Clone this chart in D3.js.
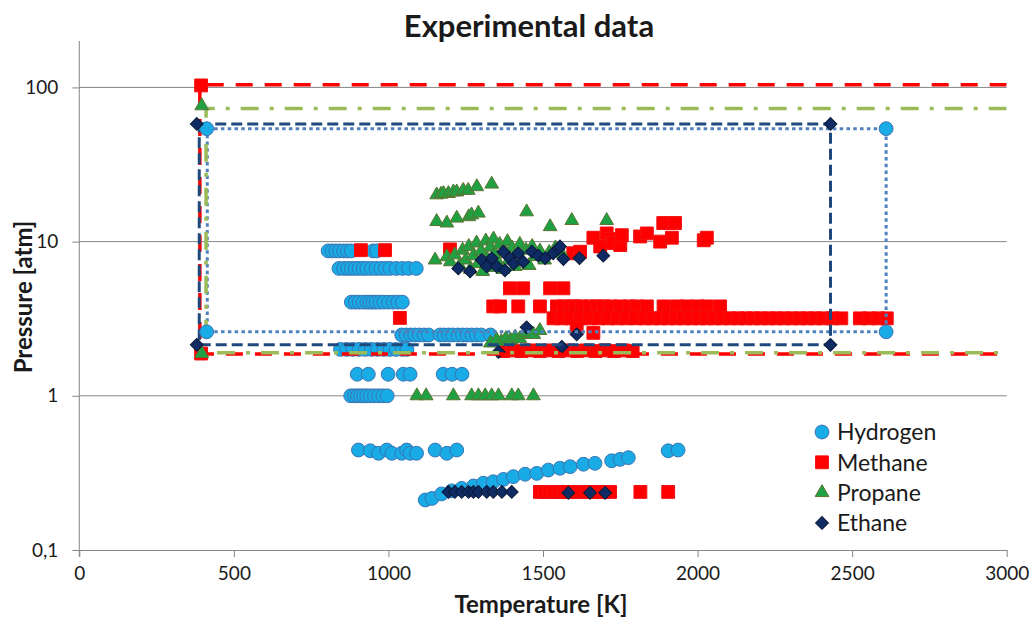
<!DOCTYPE html>
<html>
<head>
<meta charset="utf-8">
<script src="https://cdn.jsdelivr.net/npm/d3@7"></script>
<style>
  body { margin: 0; background: #fff; }
  svg { display: block; }
  text { font-family: Lato, "Open Sans", sans-serif; fill: #1a1a1a; }
</style>
</head>
<body>
<div id="chart"></div>
<script>
// Data: [temperature K, pressure atm]
const hydrogen = [
  [805,8.7],[818,8.7],[830,8.7],[842,8.7],[855,8.7],[868,8.7],[880,8.7],[950,8.7],[962,8.7],
  [840,6.7],[855,6.7],[868,6.7],[880,6.7],[893,6.7],[905,6.7],[918,6.7],[930,6.7],[945,6.7],
  [960,6.7],[975,6.7],[990,6.7],[1005,6.7],[1025,6.7],[1045,6.7],[1065,6.7],[1090,6.7],
  [880,4.05],[893,4.05],[905,4.05],[918,4.05],[930,4.05],[940,4.05],[950,4.05],[960,4.05],
  [972,4.05],[985,4.05],[1000,4.05],[1015,4.05],[1030,4.05],[1045,4.05],
  [1043,2.48],[1058,2.48],[1072,2.48],[1085,2.48],[1100,2.48],[1115,2.48],[1130,2.48],
  [1167,2.48],[1180,2.48],[1195,2.48],[1208,2.48],[1225,2.48],[1240,2.48],[1255,2.48],
  [1270,2.48],[1285,2.48],[1300,2.48],[1330,2.48],
  [845,2.0],[865,2.0],[885,2.0],[905,2.0],[925,2.0],[945,2.0],[965,2.0],[985,2.0],
  [1005,2.0],[1025,2.0],[1045,2.0],[1060,2.0],
  [899,1.38],[935,1.38],[999,1.38],[1048,1.38],[1070,1.38],[1177,1.38],[1206,1.38],[1238,1.38],
  [878,1.0],[890,1.0],[900,1.0],[910,1.0],[920,1.0],[930,1.0],[942,1.0],[955,1.0],
  [968,1.0],[982,1.0],[996,1.0],
  [903,0.445],[941,0.44],[968,0.424],[995,0.445],[1011,0.424],[1043,0.424],[1059,0.445],
  [1070,0.424],[1091,0.424],[1151,0.445],[1189,0.424],[1221,0.445],[1905,0.44],[1937,0.445],
  [1119,0.211],[1141,0.216],[1172,0.231],[1205,0.242],[1237,0.251],[1275,0.26],[1307,0.271],
  [1339,0.277],[1372,0.287],[1404,0.299],[1442,0.31],[1480,0.314],[1517,0.33],[1555,0.339],
  [1588,0.347],[1631,0.36],[1668,0.365],[1722,0.379],[1749,0.387],[1776,0.397]
];
const methane = [
  [911,8.8],[989,8.8],[1199,8.9],[1037,3.2],
  [1598,8.4],[1620,8.6],[1663,10.6],[1685,9.3],[1706,11.3],[1722,10.4],[1727,9.8],[1750,9.5],
  [1755,11.0],[1814,10.8],[1836,11.3],[1879,10.0],[1889,13.2],[1917,10.6],[1927,13.2],
  [2020,10.2],[2030,10.6],
  [1393,4.98],[1436,4.98],[1523,4.98],[1566,4.98],
  [1339,3.8],[1361,3.8],[1420,3.8],[1490,3.8],[1545,3.8],[1566,3.8],[1590,3.8],[1604,3.8],
  [1625,3.8],[1652,3.8],[1675,3.8],[1695,3.8],[1720,3.8],[1750,3.8],[1780,3.8],[1803,3.8],
  [1836,3.8],[1890,3.8],[1933,3.8],[1965,3.8],[2000,3.8],[2030,3.8],[2073,3.8],
  [1534,3.18],[1560,3.18],[1590,3.18],[1620,3.18],[1650,3.18],[1680,3.18],[1710,3.18],
  [1740,3.18],[1770,3.18],[1800,3.18],[1830,3.18],[1855,3.18],[1880,3.18],[1905,3.18],
  [1930,3.18],[1955,3.18],[1980,3.18],[2005,3.18],[2030,3.18],[2055,3.18],[2080,3.18],
  [2105,3.18],[2130,3.18],[2155,3.18],[2180,3.18],[2205,3.18],[2230,3.18],[2255,3.18],
  [2280,3.18],[2305,3.18],[2330,3.18],[2355,3.18],[2380,3.18],[2405,3.18],[2435,3.18],
  [2465,3.18],[2525,3.18],[2555,3.18],[2585,3.18],[2612,3.18],
  [1609,2.75],[1663,2.56],
  [1372,1.95],[1400,1.97],[1430,1.95],[1460,1.97],[1490,1.95],[1520,1.97],[1550,1.95],
  [1580,1.97],[1610,1.95],[1640,1.97],[1670,1.95],[1700,1.97],[1730,1.95],[1760,1.97],[1790,1.95],
  [1490,0.238],[1505,0.238],[1520,0.238],[1535,0.238],[1550,0.238],[1565,0.238],[1580,0.238],
  [1600,0.238],[1620,0.238],[1640,0.238],[1660,0.238],[1680,0.238],[1700,0.238],[1717,0.238],
  [1815,0.238],[1905,0.238]
];
const propane = [
  [1156,20.1],[1170,20.3],[1178,20.5],[1194,20.5],[1210,21],[1221,21],[1242,21.5],[1258,21.5],
  [1286,22.7],[1334,23.6],
  [1156,13.5],[1189,13.2],[1221,14.2],[1260,14.5],[1269,14.9],[1291,15.3],[1447,15.6],
  [1523,12.5],[1593,13.7],[1706,13.7],
  [1151,7.6],[1189,7.97],
  [1200,7.4],[1215,8.2],[1230,7.0],[1240,8.8],[1250,7.6],[1260,9.3],[1265,6.6],[1275,8.1],
  [1285,9.8],[1290,7.2],[1300,8.7],[1305,6.4],[1315,10.1],[1320,7.7],[1330,9.2],[1335,6.8],
  [1340,10.4],[1345,8.3],[1355,7.3],[1360,9.6],[1370,6.6],[1375,8.8],[1385,10.0],[1390,7.6],
  [1400,9.1],[1410,6.9],[1415,8.3],[1425,9.6],[1435,7.4],[1445,8.8],[1455,7.0],[1465,9.3],
  [1475,8.0],[1490,8.7],[1505,7.6],[1520,8.5],[1540,9.1],[1560,8.4],
  [1330,2.2],[1350,2.3],[1365,2.25],[1380,2.35],[1395,2.3],[1410,2.4],[1425,2.35],[1440,2.5],
  [1452,2.58],[1470,2.5],[1490,2.65],
  [1092,1.0],[1122,1.0],[1210,1.0],[1269,1.0],[1291,1.0],[1313,1.0],[1334,1.0],[1356,1.0],
  [1399,1.0],[1420,1.0],[1469,1.0]
];
const ethane = [
  [1226,6.7],[1264,6.4],[1302,7.6],[1318,6.9],[1334,7.8],[1350,6.9],[1372,8.6],[1377,6.5],
  [1393,7.8],[1405,7.2],[1420,8.4],[1436,7.4],[1464,8.6],[1485,8.1],[1507,7.8],[1533,8.4],
  [1550,9.0],[1555,9.3],[1566,7.7],[1618,7.8],[1695,8.1],
  [1447,2.78],[1609,2.5],[1356,1.93],[1561,2.08],
  [1194,0.238],[1215,0.238],[1237,0.238],[1259,0.238],[1275,0.238],[1291,0.238],[1318,0.238],
  [1339,0.238],[1367,0.238],[1399,0.238],[1582,0.235],[1652,0.235],[1701,0.235]
];

// Range boxes (corner points, drawn as lines)
const hydrogenBox = [[414,54],[2610,54],[2610,2.6],[414,2.6],[414,54]];
const methaneBox = [[3000,104],[390,104],[390,1.87],[3000,1.87]];
const propaneBox = [[3000,73],[410,73],[410,1.9],[3000,1.9]];
const ethaneBox = [[388,58],[2430,58],[2430,2.14],[388,2.14],[388,58]];
// corner markers that are visible on each box
const hydrogenCorners = [[412,54],[2610,54],[2610,2.6],[412,2.6]];
const methaneCorners = [[394,103],[394,1.88]];
const propaneCorners = [[396,76],[396,1.88]];
const ethaneCorners = [[380,58],[2430,58],[2430,2.14],[380,2.14]];

const xTicks = [0, 500, 1000, 1500, 2000, 2500, 3000];
const yTicks = [0.1, 1, 10, 100];
const yGrid = [1, 10, 100];

const width = 1031, height = 619;

const x = d3.scaleLinear().domain([0, 3000]).range([79.3, 1006.7]);
const y = d3.scaleLog().domain([0.1, 200]).range([550, 41]);

const comma = d3.formatLocale({decimal: ",", thousands: "", grouping: [3], currency: ["", ""]});

const series = [
  {name: "Hydrogen", points: hydrogen, box: hydrogenBox, corners: hydrogenCorners,
   shape: "circle", fill: "#19ABE6", stroke: "#3A73B3", line: "#4F81BD", dash: "3.5,3.3", lw: 3},
  {name: "Methane", points: methane, box: methaneBox, corners: methaneCorners,
   shape: "square", fill: "#FF0000", stroke: "#F21010", line: "#FF0000", dash: "17,12", lw: 3.5},
  {name: "Propane", points: propane, box: propaneBox, corners: propaneCorners,
   shape: "triangle", fill: "#1FA043", stroke: "#5B7530", line: "#9BBB59", dash: "18,11,4,11", lw: 3.5},
  {name: "Ethane", points: ethane, box: ethaneBox, corners: ethaneCorners,
   shape: "diamond", fill: "#0F2B63", stroke: "#0A1A3A", line: "#1F497D", dash: "11,5", lw: 3}
];

const symbolPath = {
  circle: d3.symbol().type(d3.symbolCircle).size(150)(),
  square: d3.symbol().type(d3.symbolSquare).size(165)(),
  triangle: d3.symbol().type(d3.symbolTriangle).size(82)(),
  diamond: d3.symbol().type(d3.symbolSquare).size(82)()
};
const symbolRot = {circle: 0, square: 0, triangle: 0, diamond: 45};

const svg = d3.select("#chart").append("svg")
  .attr("width", width)
  .attr("height", height);

svg.append("rect").attr("width", width).attr("height", height).attr("fill", "#fff");

svg.append("defs").append("clipPath").attr("id", "plot-clip")
  .append("rect")
  .attr("x", x.range()[0]).attr("y", y.range()[1])
  .attr("width", x.range()[1] - x.range()[0])
  .attr("height", y.range()[0] - y.range()[1]);

// Gridlines
svg.append("g").attr("class", "grid")
  .selectAll("line").data(yGrid).join("line")
  .attr("x1", x.range()[0]).attr("x2", x.range()[1])
  .attr("y1", d => y(d)).attr("y2", d => y(d))
  .attr("stroke", "#868686").attr("stroke-width", 1);

// Axes
const xAxis = svg.append("g")
  .attr("transform", `translate(0,${y.range()[0]})`)
  .call(d3.axisBottom(x).tickValues(xTicks).tickFormat(d3.format("d")).tickSize(7).tickSizeOuter(0).tickPadding(10));
const yAxis = svg.append("g")
  .attr("transform", `translate(${x.range()[0]},0)`)
  .call(d3.axisLeft(y).tickValues(yTicks).tickFormat(comma.format("~g")).tickSize(7).tickSizeOuter(0).tickPadding(14));

[xAxis, yAxis].forEach(a => {
  a.select(".domain").attr("stroke", "#868686");
  a.selectAll(".tick line").attr("stroke", "#868686");
  a.selectAll(".tick text").style("font-size", "19px").attr("fill", "#1a1a1a");
});
yAxis.select(".domain").attr("d", `M0,${y.range()[1]}V${y.range()[0] + 7}`);

// Markers
const plot = svg.append("g").attr("clip-path", "url(#plot-clip)");

series.forEach(s => {
  plot.append("g").attr("class", "series " + s.name)
    .selectAll("path").data(s.points).join("path")
    .attr("d", symbolPath[s.shape])
    .attr("transform", d => `translate(${x(d[0])},${y(d[1])}) rotate(${symbolRot[s.shape]})`)
    .attr("fill", s.fill)
    .attr("stroke", s.stroke)
    .attr("stroke-width", 1);
});

// Range boxes
const line = d3.line().x(d => x(d[0])).y(d => y(d[1]));
series.forEach(s => {
  plot.append("path")
    .datum(s.box)
    .attr("d", line)
    .attr("fill", "none")
    .attr("stroke", s.line)
    .attr("stroke-width", s.lw)
    .attr("stroke-dasharray", s.dash);
});
series.forEach(s => {
  svg.append("g")
    .selectAll("path").data(s.corners).join("path")
    .attr("d", symbolPath[s.shape])
    .attr("transform", d => `translate(${x(d[0])},${y(d[1])}) rotate(${symbolRot[s.shape]})`)
    .attr("fill", s.fill)
    .attr("stroke", s.stroke)
    .attr("stroke-width", 1);
});

// Legend
const legend = svg.append("g").attr("transform", "translate(822,432)");
const item = legend.selectAll("g").data(series).join("g")
  .attr("transform", (d, i) => `translate(0,${i * 30.3})`);
item.append("path")
  .attr("d", d => symbolPath[d.shape])
  .attr("transform", d => `rotate(${symbolRot[d.shape]})`)
  .attr("fill", d => d.fill)
  .attr("stroke", d => d.stroke);
item.append("text")
  .attr("x", 15)
  .attr("dy", "0.36em")
  .style("font-size", "23px")
  .text(d => d.name);

// Titles
svg.append("text")
  .attr("x", 529).attr("y", 37)
  .attr("text-anchor", "middle")
  .style("font-size", "31px").style("font-weight", "bold")
  .text("Experimental data");

svg.append("text")
  .attr("x", 541).attr("y", 613)
  .attr("text-anchor", "middle")
  .style("font-size", "24px").style("font-weight", "bold")
  .text("Temperature [K]");

svg.append("text")
  .attr("transform", "translate(32,297) rotate(-90)")
  .attr("text-anchor", "middle")
  .style("font-size", "24px").style("font-weight", "bold")
  .text("Pressure [atm]");
</script>
</body>
</html>
